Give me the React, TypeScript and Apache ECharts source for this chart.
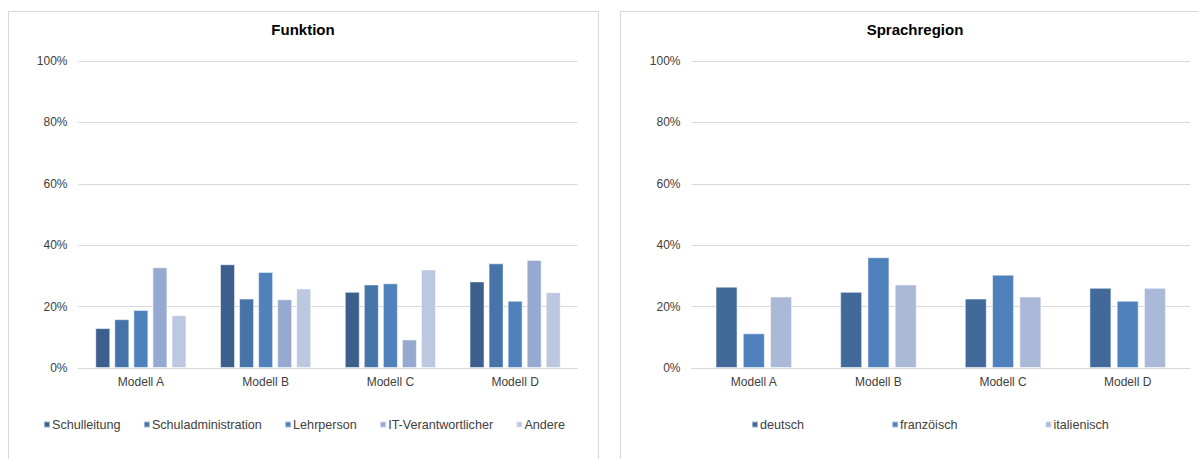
import React, { useEffect, useRef } from "react";
import * as echarts from "echarts";

const categories = ["Modell A", "Modell B", "Modell C", "Modell D"];

const funktionNames = ["Schulleitung", "Schuladministration", "Lehrperson", "IT-Verantwortlicher", "Andere"];
const schulleitung = [13.0, 33.8, 24.8, 28.2];
const schuladministration = [15.9, 22.6, 27.2, 34.1];
const lehrperson = [18.9, 31.3, 27.6, 21.9];
const itVerantwortlicher = [32.8, 22.4, 9.3, 35.2];
const andere = [17.2, 25.9, 32.1, 24.7];
const funktionColors = ["#3C5F8E", "#4674A8", "#4F81BD", "#96AAD1", "#BCC8E0"];

const spracheNames = ["deutsch", "franzöisch", "italienisch"];
const deutsch = [26.5, 24.8, 22.6, 26.1];
const franzoeisch = [11.3, 36.1, 30.4, 21.9];
const italienisch = [23.3, 27.2, 23.3, 26.1];
const spracheColors = ["#416A9B", "#4F81BD", "#AAB9D7"];

const yTicks = { min: 0, max: 100, interval: 20 };

const FONT = "Liberation Sans, Arial, sans-serif";
const TEXT = "#404040";
const GRID = "#d9d9d9";

export default function App() {
  const ref = useRef<HTMLDivElement>(null);
  useEffect(() => {
    if (!ref.current) return;
    const chart = echarts.init(ref.current, undefined, { renderer: "svg" });
    const funktionData = [schulleitung, schuladministration, lehrperson, itVerantwortlicher, andere];
    const spracheData = [deutsch, franzoeisch, italienisch];

    const xAxis = (gridIndex: number) => ({
      type: "category" as const,
      gridIndex,
      data: categories,
      axisLine: { lineStyle: { color: GRID, width: 1 } },
      axisTick: { show: false },
      axisLabel: { color: TEXT, fontSize: 12, fontFamily: FONT, margin: 8 },
    });
    const yAxis = (gridIndex: number) => ({
      type: "value" as const,
      gridIndex,
      min: yTicks.min,
      max: yTicks.max,
      interval: yTicks.interval,
      axisLine: { show: false },
      axisTick: { show: false },
      splitLine: { lineStyle: { color: GRID, width: 1 } },
      axisLabel: { color: TEXT, fontSize: 12, fontFamily: FONT, margin: 11, formatter: "{value}%" },
    });

    const series: any[] = [];
    funktionNames.forEach((name, i) => {
      series.push({
        type: "bar",
        name,
        xAxisIndex: 0,
        yAxisIndex: 0,
        data: funktionData[i],
        barWidth: 15,
        barGap: "27%",
        itemStyle: { color: funktionColors[i], borderColor: "rgba(255,255,255,0.5)", borderWidth: 1 },
      });
    });
    spracheNames.forEach((name, i) => {
      series.push({
        type: "bar",
        name,
        xAxisIndex: 1,
        yAxisIndex: 1,
        data: spracheData[i],
        barWidth: 22,
        barGap: "24%",
        itemStyle: { color: spracheColors[i], borderColor: "rgba(255,255,255,0.5)", borderWidth: 1 },
      });
    });

    const legendText = { color: TEXT, fontSize: 12.6, fontFamily: FONT, padding: [0, 0, 0, -3] };

    chart.setOption({
      animation: false,
      backgroundColor: "#ffffff",
      title: [
        {
          text: "Funktion",
          left: 303,
          textAlign: "center",
          top: 22,
          padding: 0,
          textStyle: { fontFamily: FONT, fontSize: 15, fontWeight: "bold", color: "#000000" },
        },
        {
          text: "Sprachregion",
          left: 915,
          textAlign: "center",
          top: 22,
          padding: 0,
          textStyle: { fontFamily: FONT, fontSize: 15, fontWeight: "bold", color: "#000000" },
        },
      ],
      legend: [
        {
          data: funktionNames,
          left: 43,
          top: 418,
          padding: 0,
          itemWidth: 6,
          itemHeight: 6,
          itemGap: 22.3,
          icon: "rect",
          textStyle: legendText,
        },
        {
          data: spracheNames,
          left: 751,
          top: 418,
          padding: 0,
          itemWidth: 6,
          itemHeight: 6,
          itemGap: 87,
          icon: "rect",
          textStyle: legendText,
        },
      ],
      grid: [
        { left: 78.5, top: 61, width: 499, height: 307 },
        { left: 691.5, top: 61, width: 498.5, height: 307 },
      ],
      xAxis: [xAxis(0), xAxis(1)],
      yAxis: [yAxis(0), yAxis(1)],
      series,
      graphic: [
        {
          type: "rect",
          shape: { x: 8.5, y: 11.5, width: 590, height: 470 },
          style: { fill: "none", stroke: GRID, lineWidth: 1 },
          silent: true,
          z: -1,
        },
        {
          type: "rect",
          shape: { x: 620.5, y: 11.5, width: 600, height: 470 },
          style: { fill: "none", stroke: GRID, lineWidth: 1 },
          silent: true,
          z: -1,
        },
      ],
    });
    return () => chart.dispose();
  }, []);
  return <div ref={ref} style={{ position: "fixed", left: 0, top: 0, width: 1198, height: 459 }} />;
}
